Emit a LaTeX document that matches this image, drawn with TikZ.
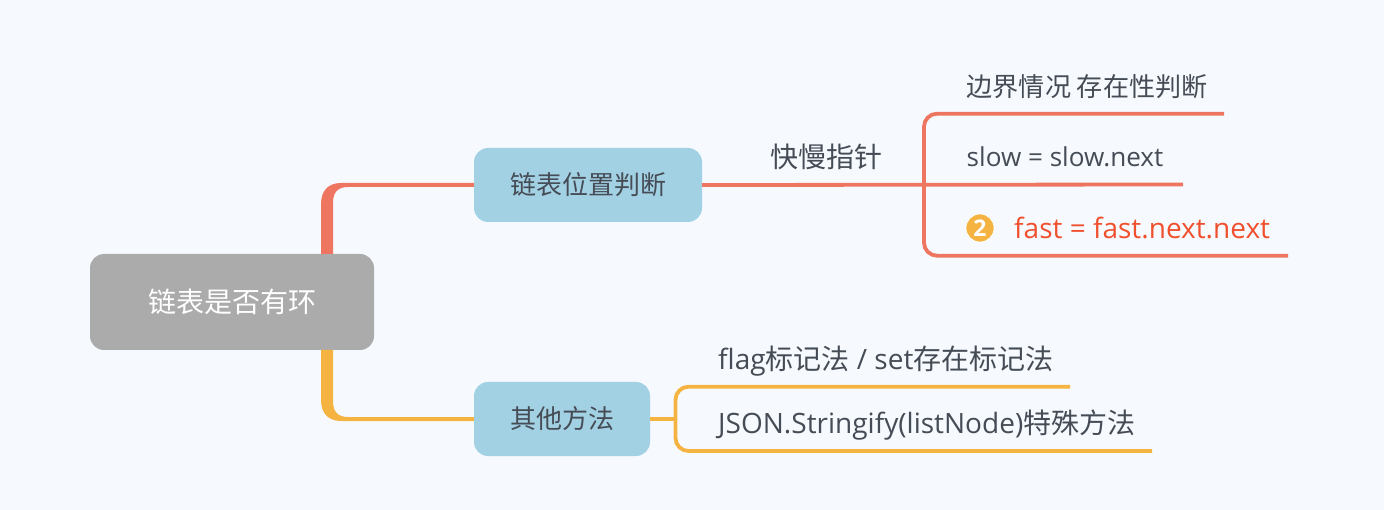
\documentclass[tikz,border=0pt]{standalone}
\usepackage{fontspec}
\setmainfont{Open Sans}
\newfontfamily\cjk{Noto Sans CJK SC}
\definecolor{pagebg}{HTML}{F6FAFF}
\definecolor{redline}{HTML}{EE7560}
\definecolor{yellowline}{HTML}{F5B342}
\definecolor{boxblue}{HTML}{A3D1E4}
\definecolor{rootgray}{HTML}{ABABAB}
\definecolor{textgray}{HTML}{454C55}
\definecolor{fastred}{HTML}{F0502D}
\tikzset{
	topic/.style={fill=boxblue,text=textgray,rounded corners=14pt,inner sep=0pt,minimum height=74pt,font=\fontsize{26}{30}\selectfont\cjk},
	leaf/.style={anchor=west,inner sep=0pt,text=textgray,font=\fontsize{28}{32}\selectfont},
	smallleaf/.style={leaf,font=\fontsize{26.1}{30}\selectfont},
	redbranch/.style={draw=redline,line width=3.8pt},
	yellowbranch/.style={draw=yellowline,line width=3.8pt}
}
\begin{document}
\begin{tikzpicture}[x=1pt,y=-1pt]
		\fill[pagebg] (0,0) rectangle (1384,510);
		\useasboundingbox (0,0) rectangle (1384,510);
		\node[fill=rootgray,text=white,rounded corners=14pt,inner sep=0pt,minimum width=284pt,minimum height=96pt,font=\fontsize{28}{32}\selectfont\cjk] (root) at (232,302) {链表是否有环};
		\node[topic,minimum width=228pt] (listpos) at (588,185) {链表位置判断};
		\node[topic,minimum width=176pt] (other) at (562,419) {其他方法};
		\node[leaf,anchor=center,font=\fontsize{28}{32}\selectfont\cjk] (pointers) at (826,157) {快慢指针};
		\node[smallleaf] (edge) at (966.5,87) {\cjk 边界情况 存在性判断};
		\node[smallleaf] (slow) at (966.5,157) {slow = slow.next};
		\node[leaf,text=fastred] (fast) at (1014,228) {fast = fast.next.next};
		\node[circle,fill=yellowline,draw=white,line width=0.6pt,inner sep=0pt,minimum size=28pt,text=white,font=\fontsize{23}{23}\selectfont\bfseries] (badge) at (980,228) {2};
		\node[leaf] (flag) at (718,361) {flag{\cjk 标记法} / set{\cjk 存在标记法}};
		\node[leaf] (json) at (718,425.5) {JSON.Stringify(listNode){\cjk 特殊方法}};
		\coordinate (rootup) at (327,254);
		\coordinate (rootdown) at (327,350);
		\coordinate (edgeend) at (1224,113.7);
		\coordinate (slowend) at (1183,184.5);
		\coordinate (fastend) at (1288,255.7);
		\coordinate (redbend) at (924,184.5);
		\coordinate (flagend) at (1070,386.7);
		\coordinate (jsonend) at (1152,451);
		\coordinate (yellowbend) at (675.5,419);
		\fill[redline] ([xshift=-6pt]rootup) -- (321,204) .. controls (321,191) and (328,183) .. (341,183) -- ([yshift=2pt]listpos.west) -- ([yshift=-2pt]listpos.west) -- (348,187) .. controls (338,187) and (333,192) .. (333,203) -- ([xshift=6pt]rootup) -- cycle;
		\fill[yellowline] ([xshift=-6pt]rootdown) -- (321,400) .. controls (321,413) and (328,421) .. (341,421) -- ([yshift=-2pt]other.west) -- ([yshift=2pt]other.west) -- (348,417) .. controls (338,417) and (333,412) .. (333,401) -- ([xshift=6pt]rootdown) -- cycle;
		\draw[redbranch] (listpos.east) -- (slowend);
		\draw[redbranch,rounded corners=13pt] (edgeend) -| (redbend) |- (fastend);
		\draw[yellowbranch] (other.east) -- (yellowbend);
		\draw[yellowbranch,rounded corners=13pt] (flagend) -| (yellowbend) |- (jsonend);
	\end{tikzpicture}
\end{document}
